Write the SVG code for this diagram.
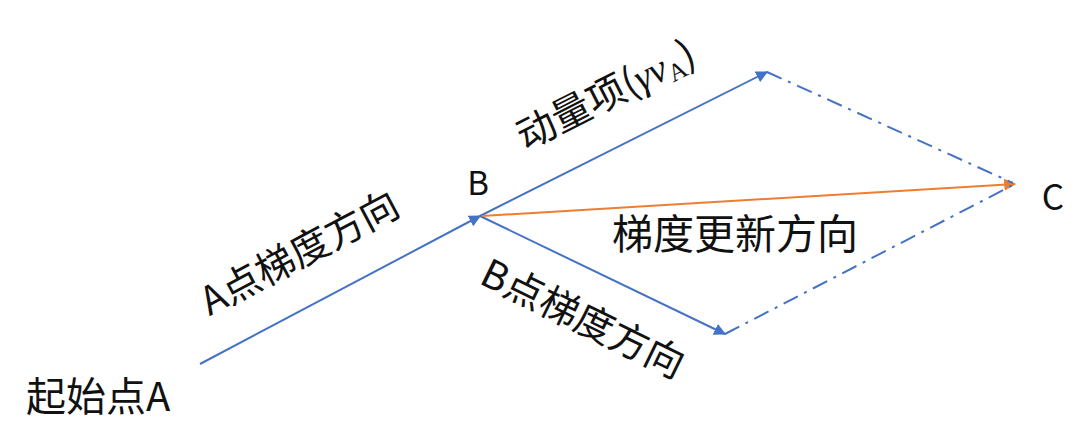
<svg xmlns="http://www.w3.org/2000/svg" width="1087" height="445" viewBox="0 0 1087 445">
<style>
.t{font-family:"Noto Sans CJK SC","Liberation Sans",sans-serif;fill:#111;font-weight:400;}
.blue{stroke:#4472C4;stroke-width:2;fill:none;}
.dash{stroke:#4472C4;stroke-width:2;fill:none;stroke-dasharray:16 7 3 7;}
.orange{stroke:#ED7D31;stroke-width:2;fill:none;}
</style>
<defs>
<marker id="ab" viewBox="0 0 10 10" refX="9" refY="5" markerWidth="6" markerHeight="6" orient="auto" markerUnits="strokeWidth"><path d="M0,0 L10,5 L0,10 z" fill="#4472C4"/></marker>
<marker id="ao" viewBox="0 0 10 10" refX="9" refY="5" markerWidth="6" markerHeight="6" orient="auto" markerUnits="strokeWidth"><path d="M0,0 L10,5 L0,10 z" fill="#ED7D31"/></marker>
</defs>
<rect width="1087" height="445" fill="#fff"/>
<g id="connectors">
<line class="blue" x1="200" y1="364" x2="480" y2="216" marker-end="url(#ab)"/>
<line class="blue" x1="480" y1="216" x2="767" y2="72" marker-end="url(#ab)"/>
<line class="blue" x1="480" y1="216" x2="725" y2="334" marker-end="url(#ab)"/>
<line class="orange" x1="482" y1="216" x2="1015" y2="184" marker-end="url(#ao)"/>
<line class="dash" x1="767" y1="72" x2="1013" y2="183"/>
<line class="dash" x1="725" y1="334" x2="1013" y2="185"/>
</g>
<g id="node-A"><text class="t" x="26" y="411" font-size="40">起始点A</text></g>
<g id="node-B"><text class="t" x="478" y="195" font-size="33" text-anchor="middle">B</text></g>
<g id="node-C"><text class="t" x="1053" y="210" font-size="35" text-anchor="middle">C</text></g>
<g id="label-A-grad"><text class="t" font-size="39" text-anchor="middle" transform="translate(306,265) rotate(-28)">A点梯度方向</text></g>
<g id="label-momentum"><text class="t" font-size="39" text-anchor="middle" transform="translate(612,107) rotate(-27)">动量项(<tspan font-family="Liberation Serif" font-style="italic">γv</tspan><tspan font-family="Liberation Serif" font-size="25" dy="6">A</tspan><tspan dy="-6">)</tspan></text></g>
<g id="label-update"><text class="t" x="735" y="249" font-size="41" text-anchor="middle">梯度更新方向</text></g>
<g id="label-B-grad"><text class="t" font-size="39" text-anchor="middle" transform="translate(577,331) rotate(26)">B点梯度方向</text></g>
</svg>
